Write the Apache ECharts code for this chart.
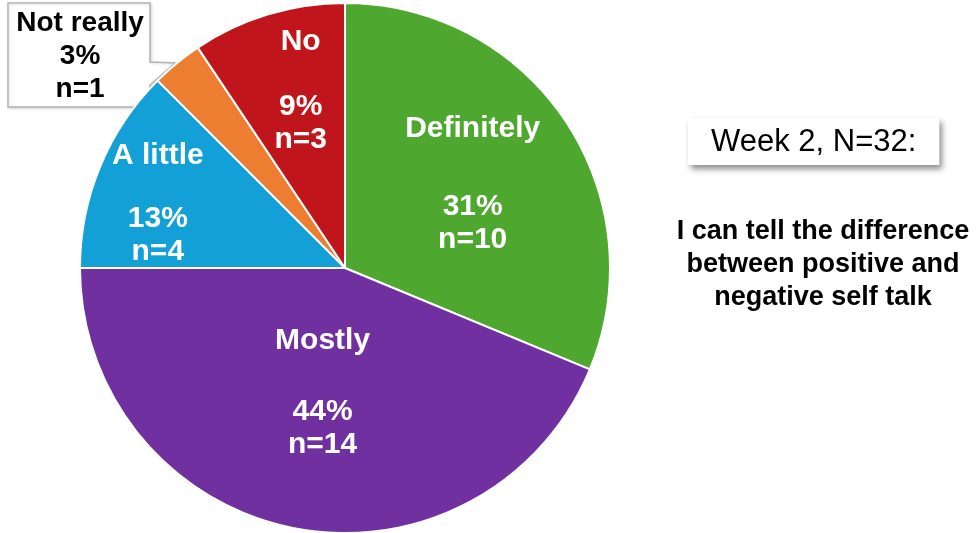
<!DOCTYPE html>
<html>
<head>
<meta charset="utf-8">
<script src="https://cdn.jsdelivr.net/npm/echarts@6/dist/echarts.min.js"></script>
<style>
html,body{margin:0;padding:0;background:#fff;}
#chart{width:978px;height:533px;}
</style>
</head>
<body>
<div id="chart"></div>
<script>
const categories = ['Definitely', 'Mostly', 'A little', 'Not really', 'No'];
const counts = [10, 14, 4, 1, 3];
const colors = ['#4EA72E', '#7030A0', '#12A0D7', '#ED7D31', '#C0161B'];
const labelOffsets = [[15, -8], [4, -8], [-62, -12], [-179, -107], [-5, -48]];
const labelGaps = [45, 38, 30, 0, 32];
const titleText = 'Week 2, N=32:';
const questionText = 'I can tell the difference\nbetween positive and\nnegative self talk';

const total = counts.reduce((a, b) => a + b, 0);
const FONT = '"Liberation Sans", Arial, Helvetica, sans-serif';

const data = categories.map((c, i) => {
  const isCallout = c === 'Not really';
  const col = isCallout ? '#000' : '#fff';
  const fs = isCallout ? 28 : 30;
  return {
    name: c,
    value: counts[i],
    itemStyle: { color: colors[i] },
    label: {
      offset: labelOffsets[i],
      rich: {
        n: { color: col, fontSize: fs, fontWeight: 'bold', fontFamily: FONT, lineHeight: 33 },
        g: { fontSize: 10, lineHeight: labelGaps[i] },
        v: { color: col, fontSize: fs, fontWeight: 'bold', fontFamily: FONT, lineHeight: 33 }
      },
      formatter: function (p) {
        const pct = Math.round(p.value / total * 100);
        if (isCallout) return '{n|' + p.name + '}\n{v|' + pct + '%}\n{v|n=' + p.value + '}';
        return '{n|' + p.name + '}\n{g| }\n{v|' + pct + '%}\n{v|n=' + p.value + '}';
      }
    }
  };
});

const chart = echarts.init(document.getElementById('chart'), null, { renderer: 'canvas' });
chart.setOption({
  animation: false,
  backgroundColor: '#fff',
  title: [{
    text: titleText,
    left: 688,
    top: 118,
    padding: [8, 23, 7, 23],
    backgroundColor: '#fff',
    shadowColor: 'rgba(0,0,0,0.45)',
    shadowBlur: 6,
    shadowOffsetX: 3,
    shadowOffsetY: 4,
    textStyle: { fontFamily: FONT, fontSize: 31, fontWeight: 'normal', color: '#000', lineHeight: 32 }
  }],
  graphic: [
    {
      type: 'polygon',
      z: 1,
      shape: { points: [[8, 3], [150, 3], [150, 62], [175, 63], [150, 85], [150, 107], [8, 107]] },
      style: { fill: '#fff', stroke: '#b4b4b4', lineWidth: 1.5, shadowColor: 'rgba(0,0,0,0.15)', shadowBlur: 3, shadowOffsetX: 1, shadowOffsetY: 1 }
    },
    {
      type: 'text',
      x: 823,
      y: 215,
      style: {
        text: questionText,
        textAlign: 'center',
        fill: '#000',
        font: 'bold 27px ' + FONT,
        lineHeight: 33
      }
    }
  ],
  series: [{
    type: 'pie',
    center: [345, 268],
    radius: 265,
    startAngle: 90,
    clockwise: true,
    avoidLabelOverlap: false,
    label: { show: true, position: 'inside' },
    labelLine: { show: false },
    itemStyle: { borderColor: '#fff', borderWidth: 2 },
    emphasis: { disabled: true },
    data: data
  }]
});
</script>
</body>
</html>
